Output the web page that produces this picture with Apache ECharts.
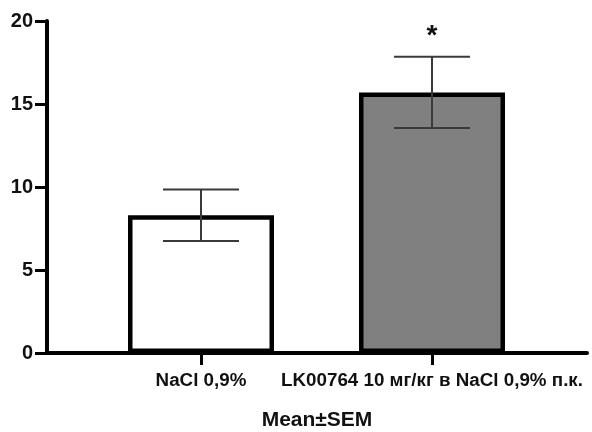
<!DOCTYPE html>
<html>
<head>
<meta charset="utf-8">
<script src="https://cdn.jsdelivr.net/npm/echarts@6/dist/echarts.min.js"></script>
<style>
html,body{margin:0;padding:0;background:#fff;}
#chart{width:592px;height:432px;}
</style>
</head>
<body>
<div id="chart"></div>
<script>
const categories = ['NaCl 0,9%', 'LK00764 10 мг/кг в NaCl 0,9% п.к.'];
const means = [8.3, 15.7];
const sems = [1.55, 2.15];
const significance = ['', '*'];
const barColors = ['#ffffff', '#808080'];
const yTicks = [0, 5, 10, 15, 20];
const axisTitle = 'Mean±SEM';

const FONT = '"Liberation Sans", Arial, sans-serif';
const chart = echarts.init(document.getElementById('chart'));

const errData = means.map((m, i) => [i, m - sems[i], m + sems[i], significance[i]]);

chart.setOption({
  animation: false,
  backgroundColor: '#fff',
  grid: [
    {left: 47, right: 5, top: 21, bottom: 79, containLabel: false, outerBoundsMode: 'none'},
    {left: 85.5, width: 462, top: 21, bottom: 79, containLabel: false, outerBoundsMode: 'none'}
  ],
  xAxis: [
    {
      gridIndex: 0, type: 'value', min: 0, max: 1,
      axisLine: {show: true, lineStyle: {color: '#000', width: 4}},
      axisTick: {show: false}, axisLabel: {show: false}, splitLine: {show: false},
      name: axisTitle, nameLocation: 'middle', nameGap: 57,
      nameTextStyle: {fontFamily: FONT, fontWeight: 'bold', fontSize: 21, color: '#111'}
    },
    {
      gridIndex: 1, type: 'category', data: categories,
      axisLine: {show: false},
      axisTick: {show: true, alignWithLabel: true, length: 12, lineStyle: {color: '#000', width: 3}},
      axisLabel: {fontFamily: FONT, fontWeight: 'bold', fontSize: 18.8, color: '#111', margin: 18, interval: 0}
    }
  ],
  yAxis: [
    {
      gridIndex: 0, type: 'value', min: yTicks[0], max: yTicks[yTicks.length - 1], interval: 5,
      axisLine: {show: true, lineStyle: {color: '#000', width: 4}},
      axisTick: {show: true, length: 12, lineStyle: {color: '#000', width: 3}},
      axisLabel: {fontFamily: FONT, fontWeight: 'bold', fontSize: 20, color: '#111', margin: 14},
      splitLine: {show: false}
    },
    {
      gridIndex: 1, type: 'value', min: yTicks[0], max: yTicks[yTicks.length - 1],
      show: false, splitLine: {show: false}
    }
  ],
  series: [
    {
      type: 'bar', xAxisIndex: 1, yAxisIndex: 1,
      barWidth: 146,
      data: means.map((v, i) => ({value: v, itemStyle: {color: barColors[i]}})),
      itemStyle: {borderColor: '#000', borderWidth: 4.5},
      z: 2
    },
    {
      type: 'custom', xAxisIndex: 1, yAxisIndex: 1,
      data: errData,
      z: 5,
      renderItem: function (params, api) {
        const x = api.value(0);
        const lo = api.coord([x, api.value(1)]);
        const hi = api.coord([x, api.value(2)]);
        const half = 38;
        const style = {stroke: '#3a3a3a', lineWidth: 2};
        const children = [
          {type: 'line', shape: {x1: lo[0], y1: lo[1], x2: hi[0], y2: hi[1]}, style: style},
          {type: 'line', shape: {x1: lo[0] - half, y1: lo[1], x2: lo[0] + half, y2: lo[1]}, style: style},
          {type: 'line', shape: {x1: hi[0] - half, y1: hi[1], x2: hi[0] + half, y2: hi[1]}, style: style}
        ];
        const sig = api.value(3);
        if (sig) {
          children.push({type: 'text', x: hi[0], y: hi[1] - 20,
            style: {text: sig, fontFamily: FONT, fontWeight: 'bold', fontSize: 28, fill: '#111', align: 'center', verticalAlign: 'middle'}});
        }
        return {type: 'group', children: children};
      }
    }
  ]
});
</script>
</body>
</html>
